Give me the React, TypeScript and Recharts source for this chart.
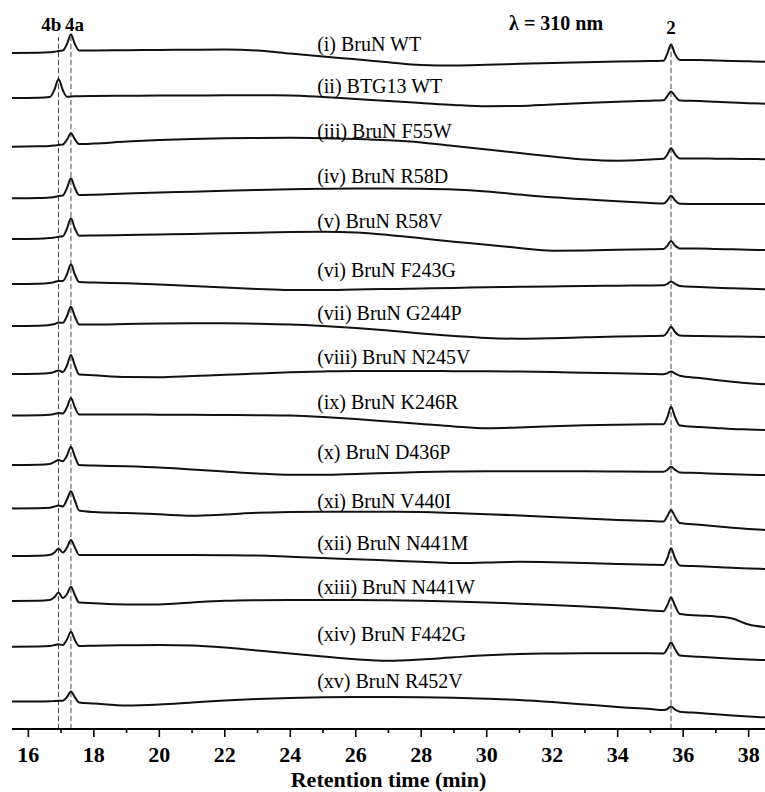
import {
  LineChart,
  Line,
  XAxis,
  YAxis,
  ReferenceLine,
  ReferenceDot,
} from "recharts";

const FONT = '"Liberation Serif", "Times New Roman", Times, serif';

// retention time grid (min), denser around the 4b / 4a / 2 peaks
const times = [
  15.5, 16.3, 16.65, 16.8, 16.92, 17.05, 17.18, 17.3, 17.42, 17.55, 18, 19, 20,
  21, 22, 23, 24, 25, 26, 27, 28, 29, 30, 31, 32, 33, 34, 35, 35.4, 35.52,
  35.63, 35.75, 35.9, 36.5, 37, 37.5, 38, 38.5,
];

const sampleNames = [
  "(i) BruN WT",
  "(ii) BTG13 WT",
  "(iii) BruN F55W",
  "(iv) BruN R58D",
  "(v) BruN R58V",
  "(vi) BruN F243G",
  "(vii) BruN G244P",
  "(viii) BruN N245V",
  "(ix) BruN K246R",
  "(x) BruN D436P",
  "(xi) BruN V440I",
  "(xii) BruN N441M",
  "(xiii) BruN N441W",
  "(xiv) BruN F442G",
  "(xv) BruN R452V",
];

// absorbance at 310 nm, relative to the start of each trace
const bruNWT = [0, 0.2, 0.7, 1.2, 2, 2.5, 9, 18.5, 9, 2.5, 2.5, 2.8, 3, 3.3, 3.5, 2.5, -0.5, -3.5, -6.3, -9.3, -12, -12.5, -11.8, -10.8, -10, -9.2, -8.5, -8, -7.8, -0.4, 8.5, -0.9, -7, -7, -7.5, -8, -8.3, -8.7];
const btg13WT = [0, 0.3, 1, 8.5, 19, 8, 1.2, 1.5, 1.7, 1.8, 2, 2.2, 2.4, 2.5, 2.7, 2.7, 2.5, 1, -1, -3, -5, -7, -8.3, -8, -6.5, -5, -3.7, -2.7, -2.3, 2, 6.5, 2, -2.5, -3, -3.8, -4.5, -5.2, -5.7];
const f55w = [0, 0.4, 0.7, 1.2, 1.7, 2.2, 7, 13.4, 7.4, 2.7, 3.2, 5.2, 6.7, 7.7, 8.4, 8.7, 8.9, 8.5, 7.7, 6.4, 4.2, 0.7, -2.8, -6.3, -9.8, -12.8, -14, -12.8, -12.1, -7.8, -1.6, -7.3, -11.8, -11.8, -12, -12.1, -12.3, -12.5];
const r58d = [0, 0.3, 0.8, 1.3, 2.3, 2.8, 10.3, 20, 10.3, 3.3, 3.6, 4.8, 5.8, 6.6, 7.5, 8.3, 9, 9.5, 9.8, 9.8, 9.6, 8.8, 6.8, 3.8, 1, -1, -3, -4.7, -5.3, -2, 2.6, -2, -5.5, -5.7, -5.7, -5.7, -5.7, -5.7];
const r58v = [0, 0.3, 1, 1.5, 2.3, 2.7, 10.3, 20.7, 10.5, 3.3, 3.5, 4, 4.5, 5, 5.7, 6.3, 7, 7.3, 6.5, 4, 0.7, -2.7, -5.7, -9, -11.7, -11.5, -10.8, -10.2, -10, -6.6, -2, -6.6, -9.5, -9.5, -10, -10.3, -10.7, -11];
const f243g = [0, 0.3, 1, 2, 3, 3, 9.7, 19.7, 9.5, 2, 1.5, 0.7, -0.5, -2, -3.5, -5, -6, -6, -5.5, -5, -4.5, -4, -3.2, -2.8, -2.4, -2, -1.7, -1.4, -1.3, 0.2, 2.5, 0.2, -2, -3, -3.7, -4.3, -4.8, -5.3];
const g244p = [0, 0.3, 1, 2, 3.5, 3.2, 10, 19.3, 9.5, 1.5, 1.5, 2, 2.5, 2.7, 2.7, 2.3, 1.5, 0, -2, -4.5, -7.5, -10, -12, -12.7, -12.2, -11.3, -10.5, -10, -9.8, -6, -0.7, -6, -9.5, -10, -10.2, -10.5, -10.7, -11];
const n245v = [0, 0.3, 1, 2.2, 3.5, 2, 8.5, 19, 8.5, -0.5, -1.3, -3, -3.3, -2, -0.8, 0.5, 1.7, 2.5, 3, 3, 3, 2.8, 2.7, 2.5, 2, 1.3, 0.7, 0, -0.3, 0.8, 2.5, 0.5, -1.7, -4, -6, -7.7, -9.2, -10.3];
const k246r = [0, 0.3, 0.7, 1.5, 2.5, 2, 8.2, 17.5, 8.2, 1, 1, 1, 0.8, 0.7, 0.5, 0.3, -0.1, -1.5, -3.5, -6, -8.5, -11, -12.8, -12, -10.8, -9.8, -9.2, -8.8, -8.7, -1.5, 8.8, -1.5, -10, -11.5, -12.5, -13.5, -14, -14.5];
const d436p = [0, 0.3, 1, 3.2, 5, 3.7, 9.5, 18.3, 8.5, 0, -0.5, -1.3, -2.5, -4.5, -6.5, -8.5, -9.8, -9.8, -9, -8, -7, -6.5, -6.2, -6.2, -6.2, -6.3, -6.5, -6.7, -6.8, -4.8, -1.7, -4.8, -7.5, -8, -8.7, -9.3, -9.7, -10];
const v440i = [0, 0.2, 0.7, 2, 3, 2, 9, 17.2, 8, -2, -3.5, -4.5, -5.8, -7.2, -6, -4.3, -3.5, -3.2, -3.2, -3.3, -3.5, -4.5, -5.7, -7, -8.5, -10, -11.5, -12.5, -13, -7.5, -1.5, -8, -14.5, -16.2, -17.8, -19.2, -20.5, -21.5];
const n441m = [0, 0.3, 1, 3.5, 7.5, 3.5, 8.5, 16, 8.5, 1, 1, 1, 1, 1, 0.8, 0.4, -0.8, -2, -3.3, -4.5, -5.7, -7, -6.5, -5.8, -6.2, -7, -8, -8.8, -9, -2, 7.7, -2, -9.5, -10.3, -11, -11.8, -12.5, -13];
const n441w = [0, 0.2, 1, 4, 8.5, 3, 7, 14.3, 6, -1.5, -2.3, -3.5, -3.5, -1.5, 0.2, 0.8, 1, 1, 1, 0.7, 0.2, -0.5, -1.5, -2.7, -4, -5.5, -7.3, -9.5, -10.3, -4, 3.5, -4.5, -13, -14.5, -15.5, -17.5, -23.5, -26];
const f442g = [0, 0.2, 0.7, 1.7, 2.5, 1.7, 7.2, 15, 6.7, 0.7, 1, 1.4, 1.7, 1.2, -0.8, -3.8, -6.8, -9.8, -12.6, -14.1, -12.8, -10.6, -8.6, -7.3, -6.8, -6.5, -6.5, -6.6, -6.7, -1.8, 4.2, -2.3, -8.8, -10, -11, -12, -12.8, -13.3];
const r452v = [0, 0, 0.2, 0.5, 0.7, 0.8, 4.5, 10, 4.2, -1, -2, -4, -3, -1, 1, 2.5, 3.5, 4.2, 4.5, 4.5, 4.3, 3.8, 2.8, 1.5, -0.5, -3, -5.5, -7.5, -8.5, -7.5, -5, -8, -10.2, -11.5, -12.8, -14, -15, -15.8];

const traces = [bruNWT, btg13WT, f55w, r58d, r58v, f243g, g244p, n245v, k246r, d436p, v440i, n441m, n441w, f442g, r452v];

// stacking offset of each chromatogram
const offsets = [676, 631, 582.3, 530.7, 490, 445, 403, 355, 313.5, 264, 220.5, 173, 128, 82.3, 27.5];
// height of each sample name above its trace offset
const labelLift = [2, 5, 8.7, 15.3, 11, 7, 6.5, 10, 7, 6, 1, 6, 7, 6.2, 14];
const labelTime = 24.82;

// retention times of the compounds marked with dashed lines
const markerTimes = [16.92, 17.3, 35.63];
const markerTops = [692, 692, 688];

const annotations = [
  { text: "4b", t: 16.7, y: 698, size: 19 },
  { text: "4a", t: 17.41, y: 698, size: 19 },
  { text: "2", t: 35.63, y: 695, size: 19 },
  { text: "\u03bb = 310 nm", t: 32.12, y: 699, size: 20 },
];

const xTicks = [16, 17, 18, 19, 20, 21, 22, 23, 24, 25, 26, 27, 28, 29, 30, 31, 32, 33, 34, 35, 36, 37, 38];

const rows = times.map((t, j) => {
  const row: Record<string, number> = { t };
  traces.forEach((s, i) => {
    row[`s${i}`] = offsets[i] + s[j];
  });
  return row;
});

const TICK_SIZE = 8;
const TICK_MARGIN = 2;

const TimeTick = (props: any) => {
  const { x, y, payload } = props;
  const major = payload.value % 2 === 0;
  const axisY = y - TICK_SIZE - TICK_MARGIN;
  return (
    <g>
      <line x1={x} x2={x} y1={axisY} y2={axisY + (major ? 8 : 4)} stroke="#000" strokeWidth={1.6} />
      {major && (
        <text x={x} y={axisY + 33} textAnchor="middle" fontFamily={FONT} fontWeight="bold" fontSize={22} fill="#000">
          {payload.value}
        </text>
      )}
    </g>
  );
};

const textLabel = (text: string, opts: { anchor?: string; size: number; bold?: boolean }) => (p: any) => {
  const vb = p.viewBox || {};
  return (
    <text
      x={vb.x}
      y={vb.y}
      textAnchor={opts.anchor || "middle"}
      fontFamily={FONT}
      fontSize={opts.size}
      fontWeight={opts.bold ? "bold" : "normal"}
      fill="#000"
    >
      {text}
    </text>
  );
};

export default function App() {
  return (
    <div style={{ position: "absolute", left: 0, top: 0, width: 765, height: 792, background: "#fff" }}>
      <LineChart width={765} height={792} data={rows} margin={{ top: 9, right: 0, bottom: 3, left: 12 }}>
        <XAxis
          type="number"
          dataKey="t"
          domain={[15.5, 38.5]}
          ticks={xTicks}
          interval={0}
          height={60}
          tickSize={TICK_SIZE}
          tickMargin={TICK_MARGIN}
          tickLine={false}
          tick={<TimeTick />}
          axisLine={{ stroke: "#000", strokeWidth: 2 }}
          label={(p: any) => {
            const vb = p.viewBox;
            return (
              <text
                x={vb.x + vb.width / 2}
                y={vb.y + vb.height - 2}
                textAnchor="middle"
                fontFamily={FONT}
                fontWeight="bold"
                fontSize={22}
                fill="#000"
              >
                Retention time (min)
              </text>
            );
          }}
        />
        <YAxis type="number" domain={[0, 720]} hide />

        {markerTimes.map((m, i) => (
          <ReferenceLine
            key={`m${i}`}
            segment={[
              { x: m, y: 0 },
              { x: m, y: markerTops[i] },
            ]}
            stroke="#444"
            strokeWidth={1}
            strokeDasharray="5 3"
          />
        ))}

        {traces.map((_, i) => (
          <Line
            key={`s${i}`}
            dataKey={`s${i}`}
            type="monotone"
            stroke="#111"
            strokeWidth={2}
            dot={false}
            isAnimationActive={false}
          />
        ))}

        {sampleNames.map((name, i) => (
          <ReferenceDot
            key={`l${i}`}
            x={labelTime}
            y={offsets[i] + labelLift[i]}
            r={0}
            fill="none"
            stroke="none"
            label={textLabel(name, { anchor: "start", size: 20 })}
          />
        ))}

        {annotations.map((a, i) => (
          <ReferenceDot
            key={`a${i}`}
            x={a.t}
            y={a.y}
            r={0}
            fill="none"
            stroke="none"
            label={textLabel(a.text, { size: a.size, bold: true })}
          />
        ))}
      </LineChart>
    </div>
  );
}
